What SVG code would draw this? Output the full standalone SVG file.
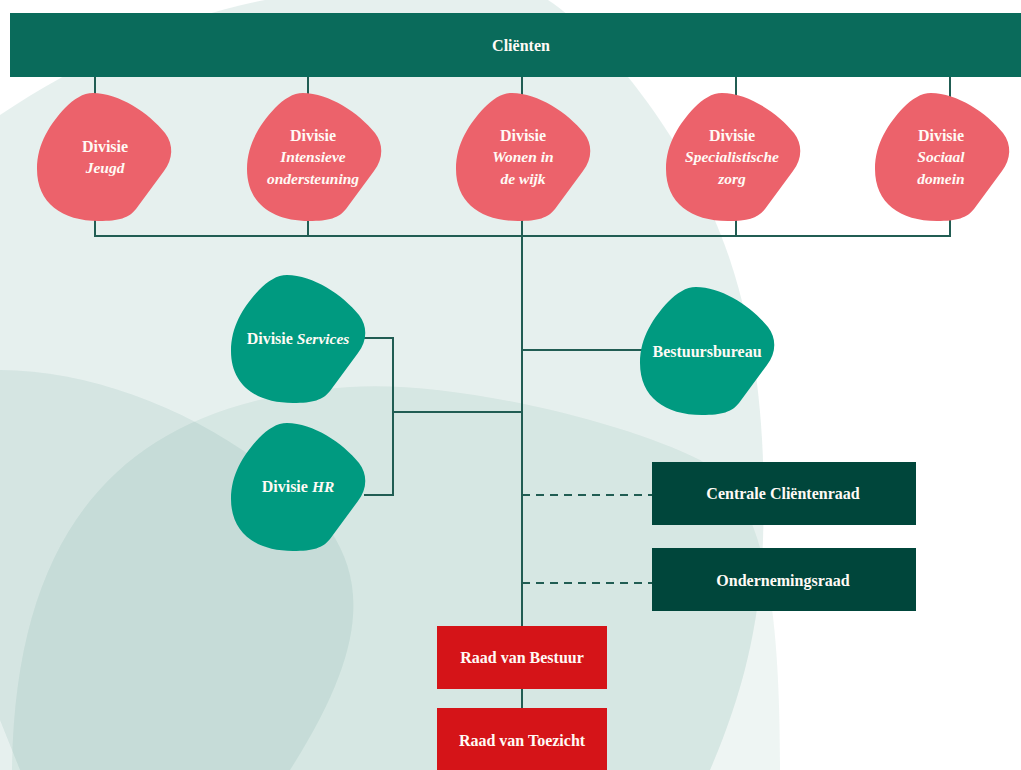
<svg xmlns="http://www.w3.org/2000/svg" xmlns:xlink="http://www.w3.org/1999/xlink" width="1021" height="770" viewBox="0 0 1021 770">
  <style>
    .t { font-family: "Liberation Serif", "DejaVu Serif", serif; font-weight: bold; font-size: 16px; fill: #fffaf5; text-anchor: middle; }
    .i { font-style: italic; font-size: 15.5px; }
    .red { fill: #ec626b; }
    .grn { fill: #009a80; }
    .dark { fill: #00463b; }
    .rvb { fill: #d51418; }
    .ln { stroke: #215d53; stroke-width: 2; fill: none; }
    .dash { stroke-dasharray: 8 6; }
    .bg { fill: #0a6c58; }
  </style>
  <defs>
    <path id="blob" d="M 56,0 C 82,0 112,20 128,40 C 137,52 136,66 127,78 L 99,116 C 92,125 82,128 62,128 C 25,128 0,110 0,76 C 0,50 14,30 28,15 C 37,6 46,0 56,0 Z"/>
  </defs>
  <rect width="1021" height="770" fill="#ffffff"/>
  <g id="background">
    <path class="bg" fill-opacity="0.1" d="M 0,115 C 90,55 200,5 300,-5 L 540,-5 C 600,30 690,140 730,260 C 760,350 766,450 763,540 C 760,630 740,700 710,770 L 0,770 Z"/>
    <path class="bg" fill-opacity="0.07" d="M 12,770 C 15,520 130,400 350,387 C 450,380 620,420 700,460 C 760,495 780,580 780,770 Z"/>
    <path class="bg" fill-opacity="0.08" d="M 0,370 C 120,370 260,440 330,530 C 370,590 360,660 290,770 L 20,770 L 0,720 Z"/>
  </g>
  <g id="connectors">
    <path class="ln" d="M95,77 V97 M308,77 V97 M522,77 V97 M736,77 V97 M950,77 V97"/>
    <path class="ln" d="M95,218 V236 H950 V218 M308,218 V236 M522,218 V626 M736,218 V236"/>
    <path class="ln" d="M364,338 H393 V495 H364 M393,412 H522"/>
    <path class="ln" d="M522,350 H642"/>
    <path class="ln dash" d="M522,495 H652 M522,583 H652"/>
    <path class="ln" d="M522,689 V708"/>
  </g>
  <g id="clienten">
    <rect x="10" y="13" width="1011" height="64" fill="#0a6b5b"/>
    <text class="t" x="521" y="51">Cliënten</text>
  </g>
  <g id="divisie-jeugd">
    <use xlink:href="#blob" class="red" transform="translate(37,93)"/>
    <text class="t" x="105" y="152">Divisie</text>
    <text class="t i" x="105" y="173">Jeugd</text>
  </g>
  <g id="divisie-intensieve">
    <use xlink:href="#blob" class="red" transform="translate(247,93)"/>
    <text class="t" x="313" y="141">Divisie</text>
    <text class="t i" x="313" y="162">Intensieve</text>
    <text class="t i" x="313" y="184">ondersteuning</text>
  </g>
  <g id="divisie-wonen">
    <use xlink:href="#blob" class="red" transform="translate(456,93)"/>
    <text class="t" x="523" y="141">Divisie</text>
    <text class="t i" x="523" y="162">Wonen in</text>
    <text class="t i" x="523" y="184">de wijk</text>
  </g>
  <g id="divisie-specialistische">
    <use xlink:href="#blob" class="red" transform="translate(666,93)"/>
    <text class="t" x="732" y="141">Divisie</text>
    <text class="t i" x="732" y="162">Specialistische</text>
    <text class="t i" x="732" y="184">zorg</text>
  </g>
  <g id="divisie-sociaal">
    <use xlink:href="#blob" class="red" transform="translate(875,93)"/>
    <text class="t" x="941" y="141">Divisie</text>
    <text class="t i" x="941" y="162">Sociaal</text>
    <text class="t i" x="941" y="184">domein</text>
  </g>
  <g id="divisie-services">
    <use xlink:href="#blob" class="grn" transform="translate(231,275)"/>
    <text class="t" x="298" y="344">Divisie <tspan class="i">Services</tspan></text>
  </g>
  <g id="divisie-hr">
    <use xlink:href="#blob" class="grn" transform="translate(231,423)"/>
    <text class="t" x="298" y="492">Divisie <tspan class="i">HR</tspan></text>
  </g>
  <g id="bestuursbureau">
    <use xlink:href="#blob" class="grn" transform="translate(640,287)"/>
    <text class="t" x="707" y="357">Bestuursbureau</text>
  </g>
  <g id="centrale-clientenraad">
    <rect class="dark" x="652" y="462" width="264" height="63"/>
    <text class="t" x="783" y="499">Centrale Cliëntenraad</text>
  </g>
  <g id="ondernemingsraad">
    <rect class="dark" x="652" y="548" width="264" height="63"/>
    <text class="t" x="783" y="586">Ondernemingsraad</text>
  </g>
  <g id="raad-van-bestuur">
    <rect class="rvb" x="437" y="626" width="170" height="63"/>
    <text class="t" x="522" y="663">Raad van Bestuur</text>
  </g>
  <g id="raad-van-toezicht">
    <rect class="rvb" x="437" y="708" width="170" height="62"/>
    <text class="t" x="522" y="746">Raad van Toezicht</text>
  </g>
</svg>
